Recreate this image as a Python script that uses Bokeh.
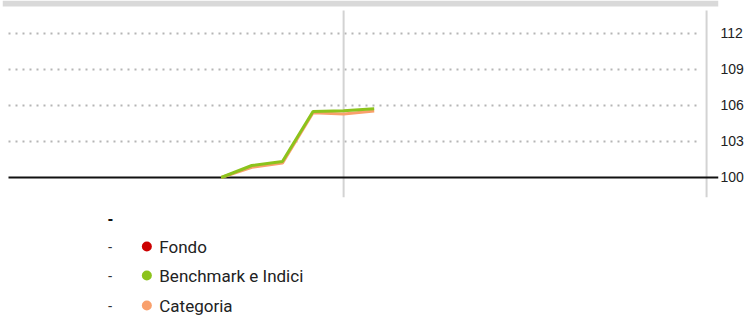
from bokeh.plotting import figure
from bokeh.models import Range1d, FixedTicker, ColumnDataSource, BoxAnnotation
from bokeh.layouts import column
from bokeh.core.properties import value
from bokeh.embed import file_html
from bokeh.resources import INLINE

# ---- data ----
periodi = [0, 1, 2, 3, 4, 5]
benchmark = [100.0, 101.0, 101.33, 105.5, 105.56, 105.72]
categoria = [100.0, 100.85, 101.2, 105.4, 105.3, 105.55]
y_ticks = [100, 103, 106, 109, 112]
serie_nomi = ["Fondo", "Benchmark e Indici", "Categoria"]
serie_colori = ["#cc0000", "#8cc31c", "#f9a06c"]
separatori = [4, 15.86]

FONT = "Liberation Sans"
LEGFONT = "Roboto"

X0, X1 = -7.146, 16.25
Y0, Y1 = 98.333, 114.75
plot_left, grid_right = -6.95, 15.67
sep_top = 113.92

p = figure(width=749, height=200, output_backend="svg", toolbar_location=None,
           x_range=Range1d(X0, X1), y_range=Range1d(Y0, Y1),
           x_axis_location=None, y_axis_location="right",
           min_border_left=2, min_border_right=31, min_border_top=0, min_border_bottom=3)
p.outline_line_color = None
p.xgrid.visible = False
p.ygrid.visible = False
p.background_fill_color = "white"

yax = p.yaxis[0]
yax.ticker = FixedTicker(ticks=y_ticks)
yax.axis_line_color = None
yax.major_tick_line_color = None
yax.minor_tick_line_color = None
yax.major_tick_out = 0
yax.major_tick_in = 0
yax.major_label_standoff = 2
yax.major_label_text_font = FONT
yax.major_label_text_font_size = "14px"
yax.major_label_text_color = "#222222"

# top gray band
p.add_layout(BoxAnnotation(bottom=114.25, fill_color="#d9d9d9", fill_alpha=1.0, line_color=None))

# dotted gridlines
gl = [t for t in y_ticks if t != 100]
p.segment(x0=[plot_left] * len(gl), x1=[grid_right] * len(gl), y0=gl, y1=gl,
          line_color="#b5b5b5", line_width=2, line_dash="2 5")

# vertical separators
p.segment(x0=separatori, x1=separatori, y0=[Y0] * len(separatori), y1=[sep_top] * len(separatori),
          line_color="#d3d3d3", line_width=2)

# base line at 100
p.segment(x0=[plot_left], x1=[X1], y0=[100], y1=[100], line_color="#111111", line_width=2)

p.line(periodi, categoria, line_color=serie_colori[2], line_width=3)
p.line(periodi, benchmark, line_color=serie_colori[1], line_width=3)

# ---- legend ----
leg = figure(width=749, height=118, output_backend="svg", toolbar_location=None,
             x_range=Range1d(0, 749), y_range=Range1d(118, 0),
             x_axis_location=None, y_axis_location=None,
             min_border=0)
leg.outline_line_color = None
leg.xgrid.visible = False
leg.ygrid.visible = False

leg.text(x=[110], y=[17], text=["-"], text_font=value(FONT), text_font_size="16px",
         text_font_style="bold", text_baseline="middle", text_color="#111111")
rows_y = [46, 75, 105]
leg.text(x=[110] * 3, y=rows_y, text=["-"] * 3, text_font=value(FONT), text_font_size="14px",
         text_baseline="middle", text_color="#333333")
src = ColumnDataSource(dict(y=rows_y, c=serie_colori, t=serie_nomi))
leg.scatter(x=151, y="y", size=10, fill_color="c", line_color=None, source=src)
leg.text(x=164, y="y", text="t", source=src, text_font=value(LEGFONT), text_font_size="17px",
         text_baseline="middle", text_color="#222222")

layout = column(p, leg, spacing=0)

open("out.html", "w").write(file_html(layout, INLINE))
